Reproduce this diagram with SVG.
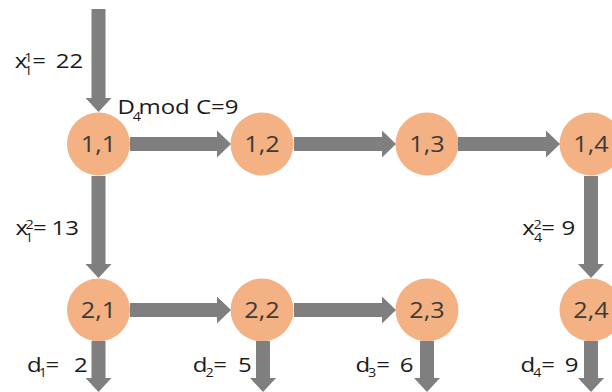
<svg xmlns="http://www.w3.org/2000/svg" width="612" height="392" viewBox="0 0 612 392">
<style>
.node circle{fill:#F4B183;}
.node text{font-family:"Open Sans","Liberation Sans",sans-serif;font-size:21px;fill:#3b3b3b;text-anchor:middle;}
.arrow{fill:#7f7f7f;}
.lbl{font-family:"Open Sans","Liberation Sans",sans-serif;font-size:20px;fill:#1a1a1a;}
.s{font-size:12px;}
</style>
<rect width="612" height="392" fill="#ffffff"/>
<g id="nodes">
<g id="n11" class="node"><circle cx="98.5" cy="144" r="31.5"/><text transform="translate(98.5 151.5) scale(1.2 1)">1,1</text></g>
<g id="n12" class="node"><circle cx="262" cy="144" r="31.5"/><text transform="translate(262 151.5) scale(1.2 1)">1,2</text></g>
<g id="n13" class="node"><circle cx="427" cy="144" r="31.5"/><text transform="translate(427 151.5) scale(1.2 1)">1,3</text></g>
<g id="n14" class="node"><circle cx="591" cy="144" r="31.5"/><text transform="translate(591 151.5) scale(1.2 1)">1,4</text></g>
<g id="n21" class="node"><circle cx="98.5" cy="310" r="31.5"/><text transform="translate(98.5 317.5) scale(1.2 1)">2,1</text></g>
<g id="n22" class="node"><circle cx="262" cy="310" r="31.5"/><text transform="translate(262 317.5) scale(1.2 1)">2,2</text></g>
<g id="n23" class="node"><circle cx="427" cy="310" r="31.5"/><text transform="translate(427 317.5) scale(1.2 1)">2,3</text></g>
<g id="n24" class="node"><circle cx="591" cy="310" r="31.5"/><text transform="translate(591 317.5) scale(1.2 1)">2,4</text></g>
</g>
<g id="connectors">
<polygon class="arrow" points="91.5,9 105.5,9 105.5,98 111.5,98 98.5,112 85.5,98 91.5,98"/>
<polygon class="arrow" points="130,137 217,137 217,130.5 231,144 217,157.5 217,151 130,151"/>
<polygon class="arrow" points="294,137 382,137 382,130.5 396,144 382,157.5 382,151 294,151"/>
<polygon class="arrow" points="458,137 546,137 546,130.5 560,144 546,157.5 546,151 458,151"/>
<polygon class="arrow" points="91.5,176 105.5,176 105.5,264 111.5,264 98.5,278 85.5,264 91.5,264"/>
<polygon class="arrow" points="584,176 598,176 598,264 604,264 591,278 578,264 584,264"/>
<polygon class="arrow" points="130,303 217,303 217,296.5 231,310 217,323.5 217,317 130,317"/>
<polygon class="arrow" points="294,303 382,303 382,296.5 396,310 382,323.5 382,317 294,317"/>
<polygon class="arrow" points="91.5,341 105.5,341 105.5,378 111.5,378 98.5,392 85.5,378 91.5,378"/>
<polygon class="arrow" points="256,341 270,341 270,378 276,378 263,392 250,378 256,378"/>
<polygon class="arrow" points="420,341 434,341 434,378 440,378 427,392 414,378 420,378"/>
<polygon class="arrow" points="584,341 598,341 598,378 604,378 591,392 578,378 584,378"/>
</g>
<g id="labels" transform="scale(1.2 1)">
<text class="lbl"><tspan x="12.2" y="68">x</tspan><tspan class="s" x="20.3" y="62">1</tspan><tspan class="s" x="20.3" y="75">1</tspan><tspan x="26.8" y="68">=</tspan><tspan x="46.4" y="68">22</tspan></text>
<text class="lbl"><tspan x="98" y="114">D</tspan><tspan class="s" x="110.6" y="121">4</tspan><tspan x="115.4" y="114">mod C=9</tspan></text>
<text class="lbl"><tspan x="13" y="235">x</tspan><tspan class="s" x="21.2" y="229">2</tspan><tspan class="s" x="20.8" y="242">1</tspan><tspan x="27.6" y="235">=</tspan><tspan x="43" y="235">13</tspan></text>
<text class="lbl"><tspan x="435.3" y="235">x</tspan><tspan class="s" x="444.7" y="229">2</tspan><tspan class="s" x="444.9" y="242">4</tspan><tspan x="451" y="235">=</tspan><tspan x="467.9" y="235">9</tspan></text>
<text class="lbl"><tspan x="22.6" y="372">d</tspan><tspan class="s" x="32.2" y="377">1</tspan><tspan x="38" y="372">=</tspan><tspan x="61.7" y="372">2</tspan></text>
<text class="lbl"><tspan x="160.7" y="372">d</tspan><tspan class="s" x="171.3" y="377">2</tspan><tspan x="177.8" y="372">=</tspan><tspan x="198.4" y="372">5</tspan></text>
<text class="lbl"><tspan x="296.3" y="372">d</tspan><tspan class="s" x="306.7" y="377">3</tspan><tspan x="313.5" y="372">=</tspan><tspan x="333.1" y="372">6</tspan></text>
<text class="lbl"><tspan x="433.8" y="372">d</tspan><tspan class="s" x="444.4" y="377">4</tspan><tspan x="451" y="372">=</tspan><tspan x="470.7" y="372">9</tspan></text>
</g>
</svg>
